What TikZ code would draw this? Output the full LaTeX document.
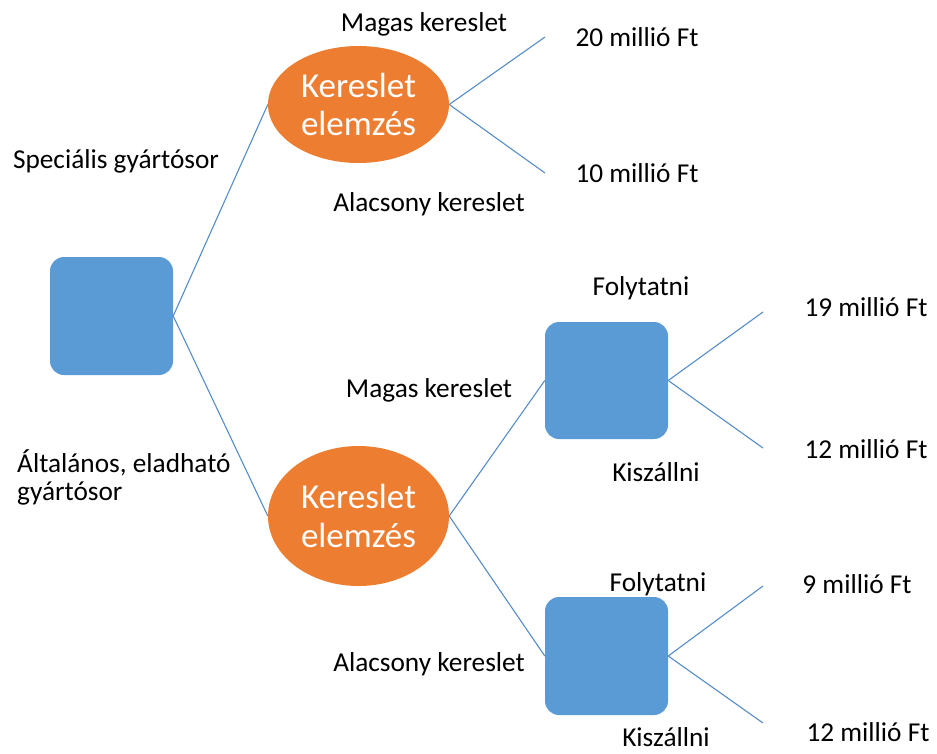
\documentclass[tikz,border=0pt]{standalone}
\usepackage{fontspec}
\setmainfont{Carlito}
\usetikzlibrary{shapes.geometric}
\definecolor{boxblue}{RGB}{91,155,213}
\definecolor{lineblue}{RGB}{84,141,200}
\definecolor{nodeorange}{RGB}{237,125,49}
\begin{document}
\begin{tikzpicture}[x=1pt,y=-1pt,
  decision/.style={draw=none,fill=boxblue,rounded corners=14pt,minimum width=123pt,minimum height=118pt,inner sep=0pt},
  chance/.style={ellipse,draw=none,fill=nodeorange,minimum width=181pt,inner sep=0pt,text=white,align=center,font=\fontsize{35}{38.5}\selectfont},
  lbl/.style={anchor=base,inner sep=0pt,font=\fontsize{27.3}{28}\selectfont},
  branch/.style={draw=lineblue,line width=1.1pt}]
\useasboundingbox (0,0) rectangle (937,753);
% nodes
\node[decision] (root) at (111.5,316) {};
\node[chance,minimum height=117pt] (e1) at (358.5,104.5) {Kereslet\\elemzés};
\node[chance,minimum height=140pt] (e2) at (358.5,516) {Kereslet\\elemzés};
\node[decision,minimum height=117pt] (d1) at (606.5,380.5) {};
\node[decision] (d2) at (606.5,656) {};
% free ends
\coordinate (t1) at (545,37);
\coordinate (t2) at (545,173);
\coordinate (t3) at (763,312);
\coordinate (t4) at (763,448);
\coordinate (t5) at (763,586);
\coordinate (t6) at (763,723);
% connectors
\draw[branch] (root.east) -- (e1.west);
\draw[branch] (root.east) -- (e2.west);
\draw[branch] (e1.east) -- (t1);
\draw[branch] (e1.east) -- (t2);
\draw[branch] (e2.east) -- (d1.west);
\draw[branch] (e2.east) -- (d2.west);
\draw[branch] (d1.east) -- (t3);
\draw[branch] (d1.east) -- (t4);
\draw[branch] (d2.east) -- (t5);
\draw[branch] (d2.east) -- (t6);
% labels
\node[lbl] (l1) at (424,31) {Magas kereslet};
\node[lbl] (l2) at (429,211) {Alacsony kereslet};
\node[lbl] (l3) at (637,46) {20 millió Ft};
\node[lbl] (l4) at (637,182) {10 millió Ft};
\node[lbl] (l5) at (116,168) {Speciális gyártósor};
\node[lbl,anchor=base west] (l6) at (17,472) {\begin{tabular}[t]{@{}l@{}}Általános, eladható\\gyártósor\end{tabular}};
\node[lbl] (l7) at (641,295) {Folytatni};
\node[lbl] (l8) at (866,316) {19 millió Ft};
\node[lbl] (l9) at (429,397) {Magas kereslet};
\node[lbl] (l10) at (866,458) {12 millió Ft};
\node[lbl] (l11) at (656,481) {Kiszállni};
\node[lbl] (l12) at (658,591) {Folytatni};
\node[lbl] (l13) at (857,593) {9 millió Ft};
\node[lbl] (l14) at (429,671) {Alacsony kereslet};
\node[lbl] (l15) at (868,741) {12 millió Ft};
\node[lbl] (l16) at (666,746) {Kiszállni};
\end{tikzpicture}
\end{document}
